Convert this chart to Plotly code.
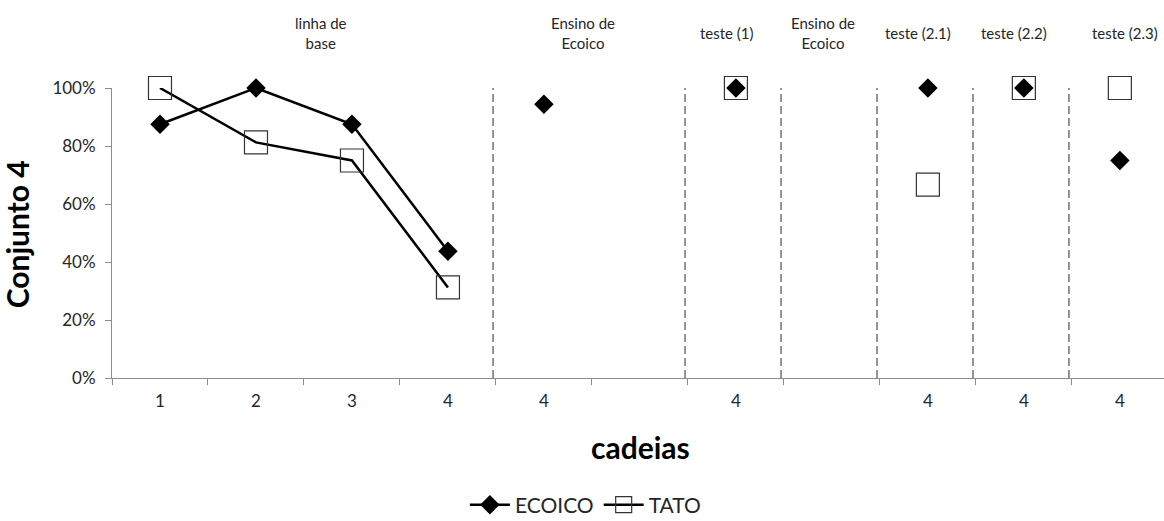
import plotly.graph_objects as go

# ---- data ----
categories = ["c1", "c2", "c3", "c4", "c5", "c6", "c7", "c8", "c9", "c10", "c11"]
tick_labels = ["1", "2", "3", "4", "4", "", "4", "", "4", "4", "4"]
ecoico = [0.875, 1.0, 0.875, 0.4375, 0.944, None, 1.0, None, 1.0, 1.0, 0.75]
tato = [1.0, 0.8125, 0.75, 0.3125, None, None, 1.0, None, 0.667, 1.0, 1.0]
baseline_n = 4  # points joined by a line (linha de base)
phase_labels = ["linha de<br>base", "Ensino de<br>Ecoico", "teste (1)", "Ensino de<br>Ecoico",
                "teste (2.1)", "teste (2.2)", "teste (2.3)"]
phase_label_pos = [1.677, 4.406, 5.906, 6.906, 7.896, 8.896, 10.05]
phase_boundaries = [3.5, 5.5, 6.5, 7.5, 8.5, 9.5]

FONT = "Lato"
AXIS_GRAY = "#8c8c8c"
TEXT = "#262626"

fig = go.Figure()

diamond = dict(symbol="diamond", size=15, color="black")
square = dict(symbol="square-open", size=23, color="#333333", line=dict(width=1.2, color="#333333"))

# ECOICO
fig.add_trace(go.Scatter(x=categories[:baseline_n], y=ecoico[:baseline_n], mode="lines+markers",
                         name="ECOICO", line=dict(color="black", width=2.5), marker=diamond,
                         cliponaxis=False, legendgroup="e"))
fig.add_trace(go.Scatter(x=categories[baseline_n:], y=ecoico[baseline_n:], mode="markers",
                         name="ECOICO", marker=diamond, showlegend=False, cliponaxis=False,
                         legendgroup="e"))
# TATO
fig.add_trace(go.Scatter(x=categories[:baseline_n], y=tato[:baseline_n], mode="lines+markers",
                         name="TATO", line=dict(color="black", width=2.5), marker=square,
                         cliponaxis=False, legendgroup="t"))
fig.add_trace(go.Scatter(x=categories[baseline_n:], y=tato[baseline_n:], mode="markers",
                         name="TATO", marker=square, showlegend=False, cliponaxis=False,
                         legendgroup="t"))

shapes = []
for b in phase_boundaries:
    shapes.append(dict(type="line", xref="x", yref="y", x0=b - 0.03, x1=b - 0.03, y0=0, y1=1.028,
                       line=dict(color="#2a2a2a", width=1, dash="8px,4px")))

annotations = []
for txt, pos in zip(phase_labels, phase_label_pos):
    annotations.append(dict(x=pos, y=1.19, xref="x", yref="paper", text=txt, showarrow=False,
                            xanchor="center", yanchor="middle",
                            font=dict(family=FONT, size=15, color=TEXT)))
annotations.append(dict(x=-0.09, y=0.497, xref="paper", yref="paper", text="<b>Conjunto 4</b>",
                        textangle=-90, showarrow=False, xanchor="center", yanchor="middle",
                        font=dict(family=FONT, size=30, color="black")))
annotations.append(dict(x=0.502, y=-0.238, xref="paper", yref="paper", text="<b>cadeias</b>",
                        showarrow=False, xanchor="center", yanchor="middle",
                        font=dict(family=FONT, size=30, color="black")))

fig.update_layout(
    width=1164, height=521,
    margin=dict(l=112, r=0, t=88, b=143, autoexpand=False),
    paper_bgcolor="white", plot_bgcolor="white",
    font=dict(family=FONT, size=17, color=TEXT),
    shapes=shapes, annotations=annotations,
    showlegend=True,
    legend=dict(orientation="h", x=0.45, xanchor="center", y=-0.438, yanchor="middle",
                font=dict(family=FONT, size=21, color=TEXT), itemwidth=40,
                tracegroupgap=0, bgcolor="rgba(0,0,0,0)"),
    xaxis=dict(type="category", categoryorder="array", categoryarray=categories,
               tickmode="array", tickvals=categories, ticktext=tick_labels,
               tickson="boundaries", ticks="outside", ticklen=6, tickcolor=AXIS_GRAY,
               showline=True, linecolor=AXIS_GRAY, linewidth=1, showgrid=False,
               range=[-0.5, 10.46], zeroline=False, ticklabelstandoff=8,
               tickfont=dict(family=FONT, size=17, color=TEXT)),
    yaxis=dict(range=[0, 1], tickvals=[0, 0.2, 0.4, 0.6, 0.8, 1.0], tickformat=".0%",
               ticks="outside", ticklen=6, tickcolor=AXIS_GRAY, showline=True,
               linecolor=AXIS_GRAY, linewidth=1, showgrid=False, zeroline=False,
               ticklabelstandoff=6,
               tickfont=dict(family=FONT, size=17, color=TEXT)),
)

fig.write_html("out.html")
